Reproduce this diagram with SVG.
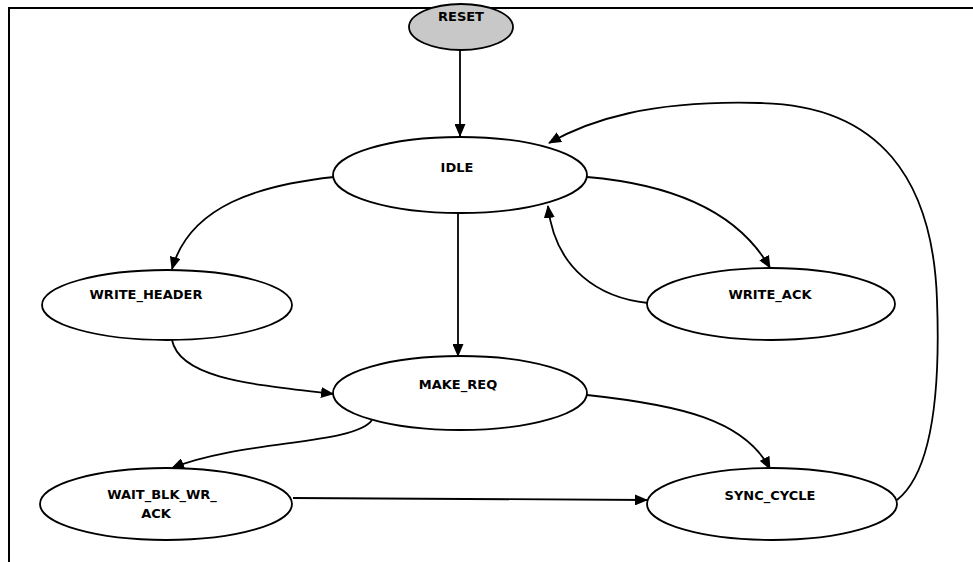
<svg xmlns="http://www.w3.org/2000/svg" width="973" height="562" viewBox="0 0 973 562">
  <style>
    .state { fill: #ffffff; stroke: #000000; stroke-width: 1.8; }
    .start { fill: #c8c8c8; stroke: #000000; stroke-width: 1.8; }
    .label { font-family: "DejaVu Sans", Verdana, sans-serif; font-weight: bold; font-size: 13px; fill: #000000; text-anchor: middle; }
    .edge { fill: none; stroke: #000000; stroke-width: 1.8; marker-end: url(#arrow); }
    .frame { fill: none; stroke: #000000; stroke-width: 2; }
  </style>
  <defs>
    <marker id="arrow" viewBox="0 0 13 11" refX="12" refY="5.5" markerWidth="13" markerHeight="11" markerUnits="userSpaceOnUse" orient="auto">
      <path d="M0,0 L13,5.5 L0,11 Z" fill="#000000"/>
    </marker>
  </defs>

  <rect width="973" height="562" fill="#ffffff"/>
  <!-- outer frame: top and left edges only -->
  <path class="frame" d="M9,562 V8 H973"/>

  <g id="connectors">
    <path id="e-reset-idle" class="edge" d="M460,50 L460,136"/>
    <path id="e-idle-writeheader" class="edge" d="M334,177 C260,185 190,205 172,269"/>
    <path id="e-idle-makereq" class="edge" d="M458,213 L458,356"/>
    <path id="e-idle-writeack" class="edge" d="M587,177 C680,185 740,215 770,268"/>
    <path id="e-writeack-idle" class="edge" d="M648,303 C600,298 555,270 548,206"/>
    <path id="e-writeheader-makereq" class="edge" d="M172,340 C180,380 260,385 333,394"/>
    <path id="e-makereq-sync" class="edge" d="M587,395 C680,405 745,420 770,469"/>
    <path id="e-makereq-wait" class="edge" d="M372,420 C355,445 240,440 172,468"/>
    <path id="e-wait-sync" class="edge" d="M293,498 L647,500"/>
    <path id="e-sync-idle" class="edge" d="M897,500 C935,470 940,380 937,300 C933,180 880,105 760,103 C650,100 590,120 549,143"/>
  </g>

  <g id="node-reset">
    <ellipse class="start" cx="461" cy="27" rx="52" ry="23"/>
    <text class="label" x="461" y="21">RESET</text>
  </g>
  <g id="node-idle">
    <ellipse class="state" cx="460" cy="175" rx="127" ry="38"/>
    <text class="label" x="457" y="172">IDLE</text>
  </g>
  <g id="node-write-header">
    <ellipse class="state" cx="167" cy="305" rx="125" ry="35"/>
    <text class="label" x="146" y="299">WRITE_HEADER</text>
  </g>
  <g id="node-write-ack">
    <ellipse class="state" cx="771" cy="304" rx="124" ry="36"/>
    <text class="label" x="770" y="299">WRITE_ACK</text>
  </g>
  <g id="node-make-req">
    <ellipse class="state" cx="460" cy="393" rx="127" ry="37"/>
    <text class="label" x="458" y="389">MAKE_REQ</text>
  </g>
  <g id="node-wait-blk-wr-ack">
    <ellipse class="state" cx="166" cy="504" rx="126" ry="36"/>
    <text class="label" x="162" y="499">WAIT_BLK_WR_</text>
    <text class="label" x="156" y="518">ACK</text>
  </g>
  <g id="node-sync-cycle">
    <ellipse class="state" cx="772" cy="504" rx="125" ry="36"/>
    <text class="label" x="770" y="500">SYNC_CYCLE</text>
  </g>
</svg>
